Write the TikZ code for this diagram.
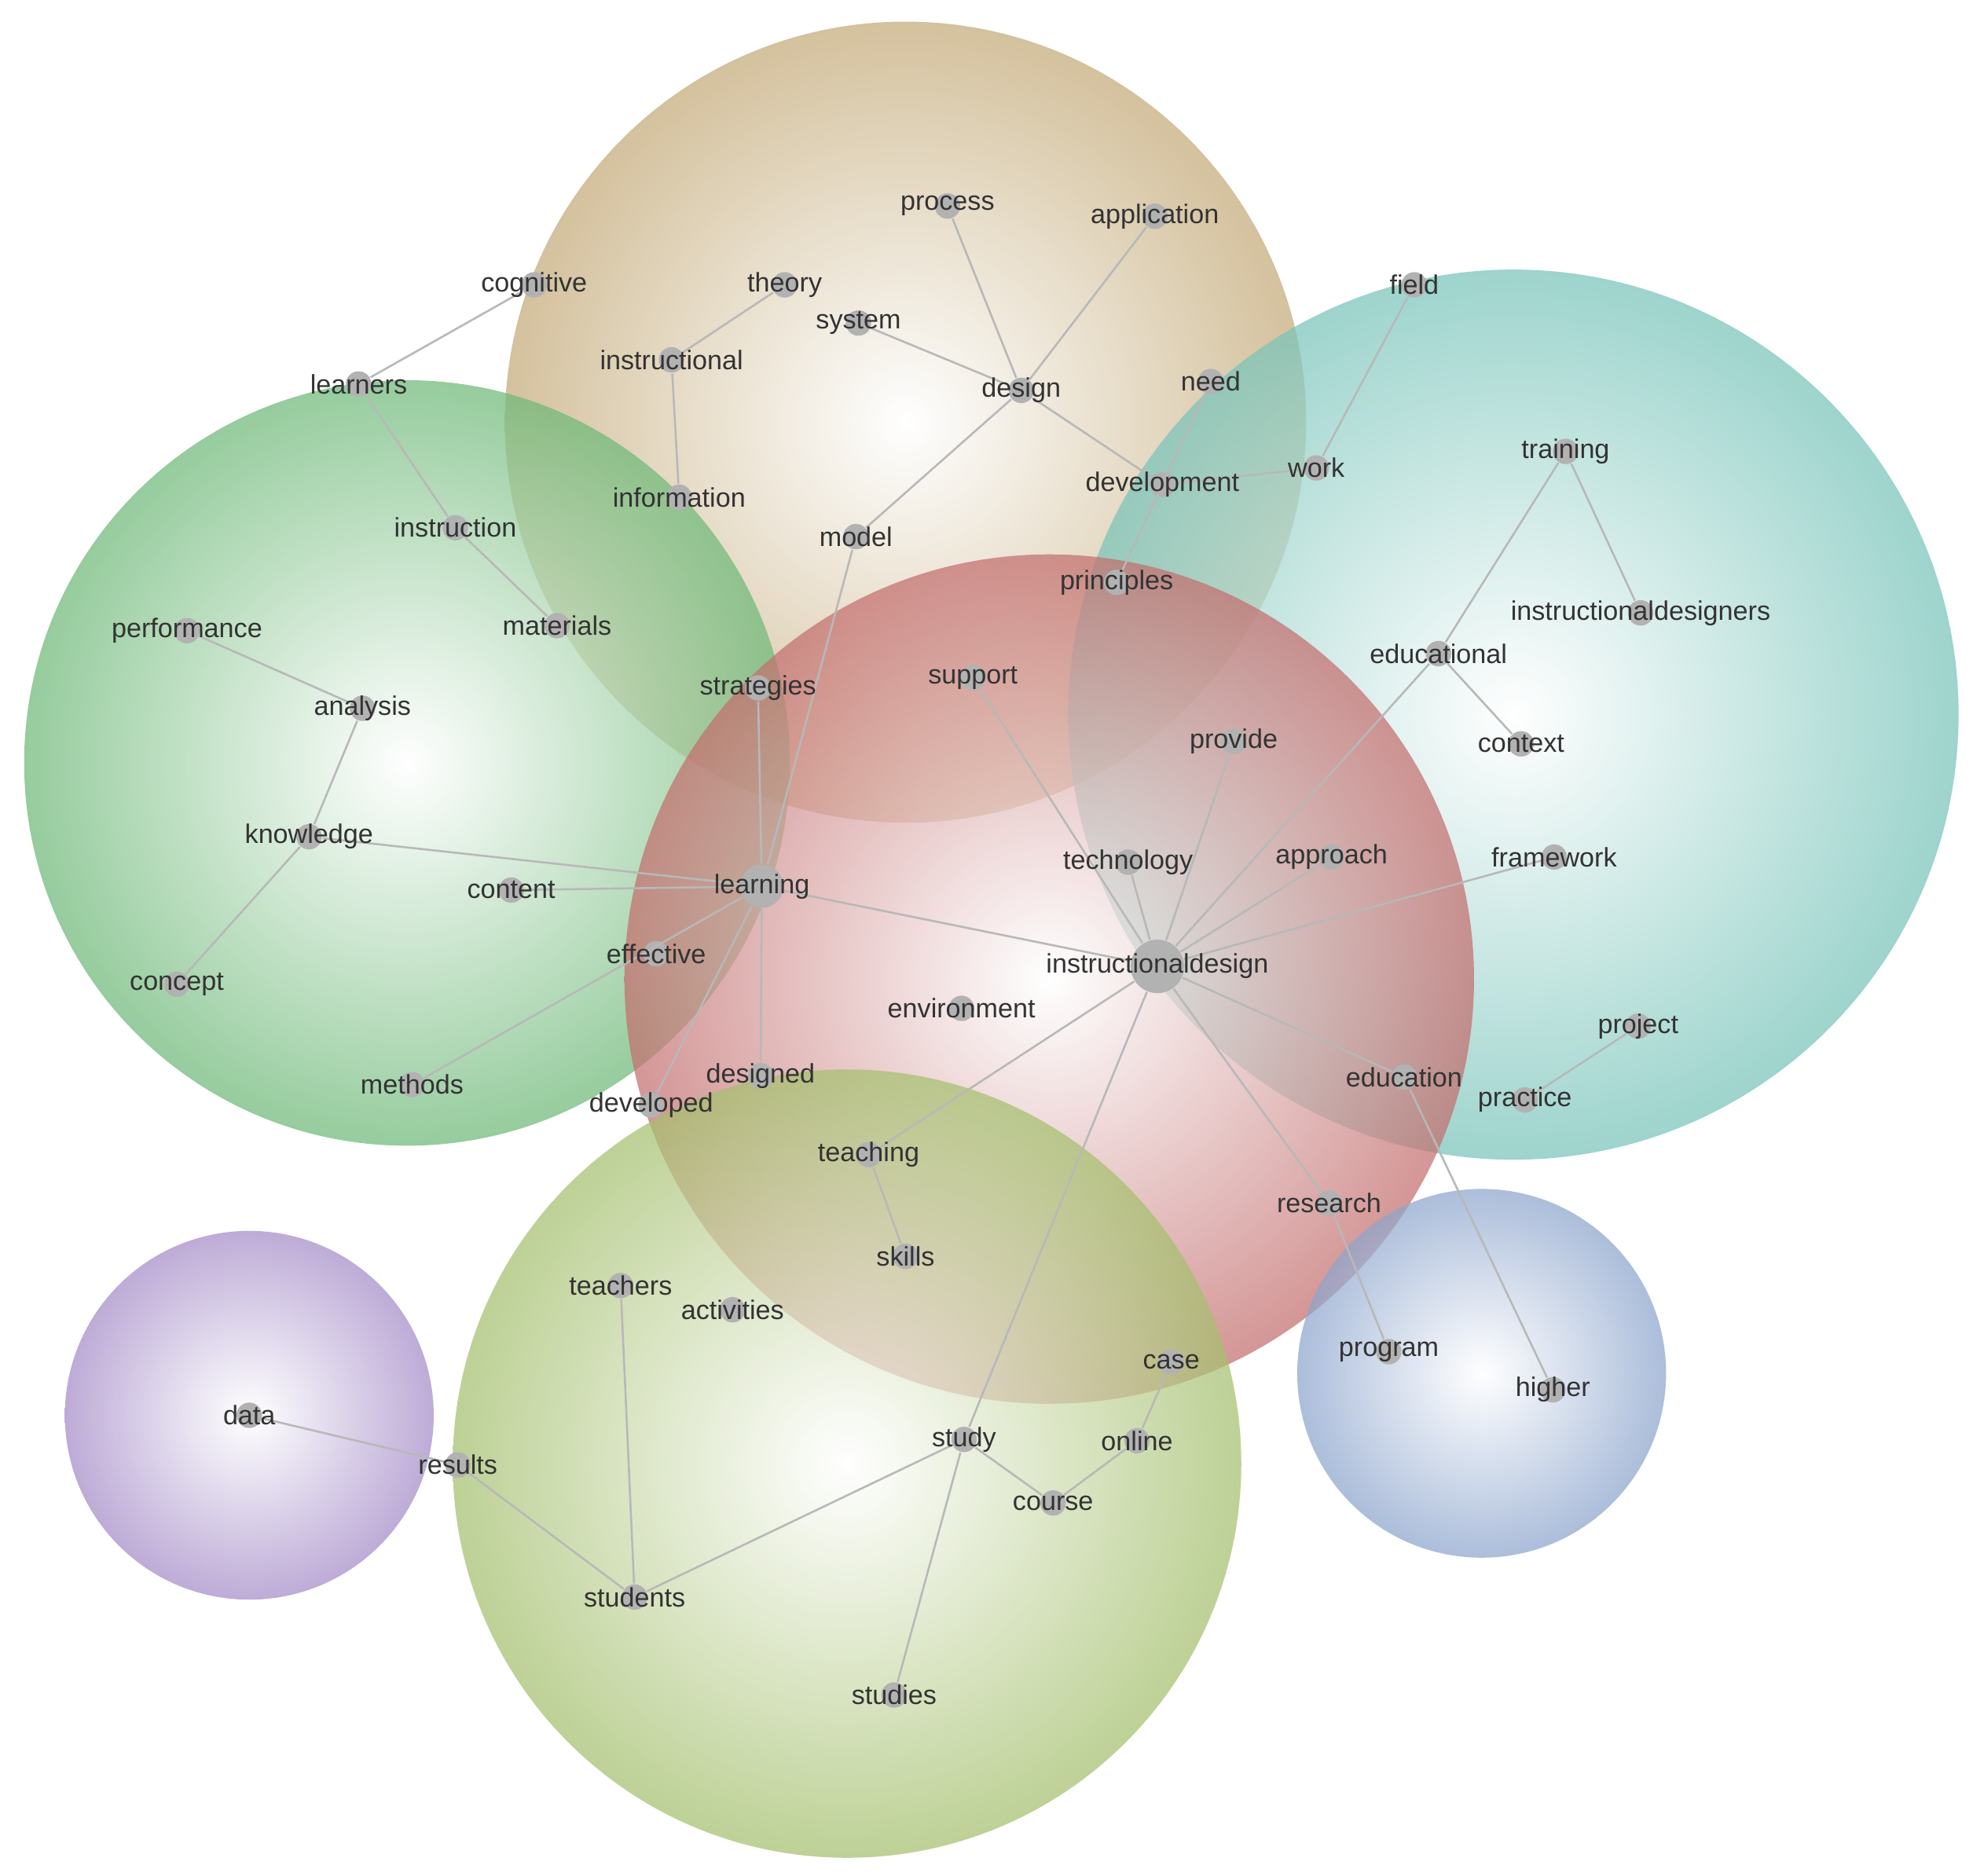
\documentclass[tikz,border=0pt]{standalone}
\usepackage{fontspec}
\setmainfont{Liberation Sans}
\begin{document}
\begin{tikzpicture}[x=0.01cm,y=-0.01cm,
  bub/.style={fill opacity=0.72,draw=none},
  dot/.style={circle,fill=black!30,inner sep=0pt,minimum size=0.2cm},
  lab/.style={font=\fontsize{6}{7}\selectfont,text=black!80,inner sep=0pt},
  edge/.style={draw=black!28,line width=0.45pt}]
\useasboundingbox (0,0) rectangle (1560,1475);
\fill[white] (0,0) rectangle (1560,1475);
\definecolor{ctan}{RGB}{196,170,120}
\definecolor{cteal}{RGB}{120,196,186}
\definecolor{cgreen}{RGB}{110,185,120}
\definecolor{cred}{RGB}{196,110,110}
\definecolor{colive}{RGB}{165,192,110}
\definecolor{cpurp}{RGB}{165,140,200}
\definecolor{cblue}{RGB}{140,165,205}
\shade[bub,inner color=white,outer color=ctan] (712,332) circle (315);
\shade[bub,inner color=white,outer color=cteal] (1190,562) circle (350);
\shade[bub,inner color=white,outer color=cgreen] (320,600) circle (301);
\shade[bub,inner color=white,outer color=cred] (825,770) circle (334);
\shade[bub,inner color=white,outer color=colive] (666,1151) circle (310);
\shade[bub,inner color=white,outer color=cpurp] (196,1113) circle (145);
\shade[bub,inner color=white,outer color=cblue] (1165,1080) circle (145);
\foreach \n/\x/\y/\t in {
process/745/162/process, application/908/170/application, cognitive/420/224/cognitive,
theory/617/224/theory, system/675/254/system, field/1112/224/field, learners/282/302/learners,
instructional/528/283/instructional, design/803/307/design, need/952/300/need, work/1035/368/work,
development/914/381/development, training/1231/355/training, information/534/391/information,
instruction/358/415/instruction, model/673/422/model, principles/878/458/principles,
performance/147/496/performance, materials/438/492/materials,
instructionaldesigners/1290/482/instructionaldesigners, educational/1131/514/educational,
strategies/596/541/strategies, support/765/533/support, analysis/285/557/analysis,
provide/970/583/provide, context/1196/585/context, knowledge/243/658/knowledge,
technology/887/678/technology, approach/1047/674/approach, framework/1222/674/framework,
content/402/700/content, effective/516/750/effective,
concept/139/774/concept, environment/756/793/environment, project/1288/807/project,
methods/324/853/methods, designed/598/846/designed, education/1104/847/education,
developed/512/869/developed, practice/1199/865/practice, teaching/683/908/teaching,
research/1045/946/research, skills/712/988/skills, teachers/488/1011/teachers,
activities/576/1030/activities, program/1092/1063/program, case/921/1071/case,
higher/1221/1093/higher, data/196/1113/data, results/360/1152/results, study/758/1132/study,
online/894/1133/online, course/828/1182/course, students/499/1256/students, studies/703/1333/studies}
{\node[dot] (\n) at (\x,\y) {};}
\node[dot,minimum size=0.34cm] (learning) at (599,697) {};
\node[dot,minimum size=0.42cm] (ID) at (910,760) {};
\foreach \a/\b in {cognitive/learners,learners/instruction,instruction/materials,
theory/instructional,instructional/information,system/design,process/design,application/design,
design/development,design/model,model/learning,need/principles,development/work,work/field,
performance/analysis,analysis/knowledge,knowledge/concept,knowledge/learning,content/learning,
learning/methods,learning/strategies,learning/designed,learning/developed,learning/ID,
support/ID,technology/ID,provide/ID,approach/ID,framework/ID,educational/ID,ID/education,
ID/research,ID/teaching,ID/study,training/educational,training/instructionaldesigners,
educational/context,project/practice,education/higher,research/program,teaching/skills,
teachers/students,data/results,results/students,students/study,study/course,course/online,
online/case,study/studies}
{\draw[edge] (\a) -- (\b);}
\foreach \n/\t in {process/process, application/application, cognitive/cognitive,
theory/theory, system/system, field/field, learners/learners, instructional/instructional,
design/design, need/need, work/work, development/development, training/training,
information/information, instruction/instruction, model/model, principles/principles,
performance/performance, materials/materials, instructionaldesigners/instructionaldesigners,
educational/educational, strategies/strategies, support/support, analysis/analysis,
provide/provide, context/context, knowledge/knowledge, technology/technology,
approach/approach, framework/framework, content/content, learning/learning,
effective/effective, ID/instructionaldesign, concept/concept, environment/environment,
project/project, methods/methods, designed/designed, education/education,
developed/developed, practice/practice, teaching/teaching, research/research, skills/skills,
teachers/teachers, activities/activities, program/program, case/case, higher/higher,
data/data, results/results, study/study, online/online, course/course, students/students,
studies/studies}
{\node[lab] at (\n) {\t};}
\end{tikzpicture}
\end{document}
